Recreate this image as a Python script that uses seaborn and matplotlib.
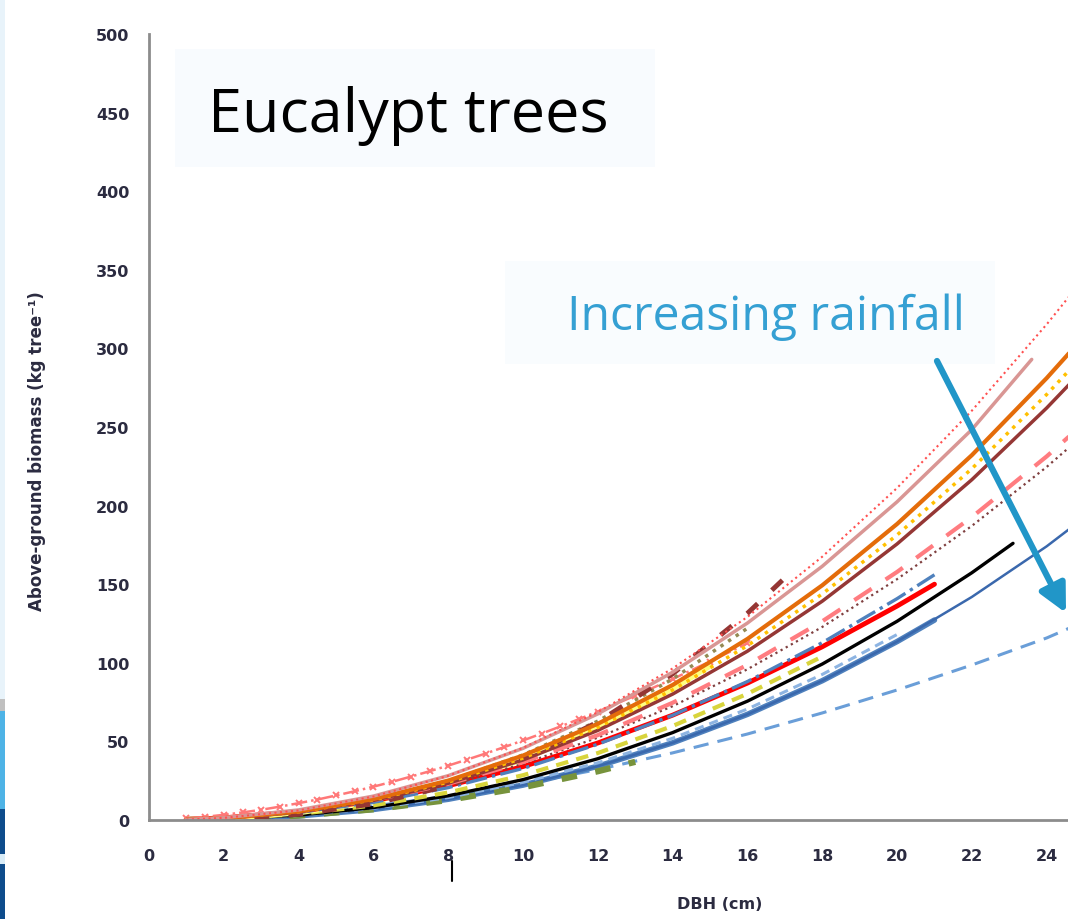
import matplotlib
matplotlib.use("Agg")
import matplotlib.pyplot as plt
import seaborn as sns
from matplotlib.patches import Rectangle
from matplotlib.lines import Line2D

sns.set_theme(style="white")
plt.rcParams['font.family'] = ['DejaVu Sans']

# ---------------- data ----------------
x_full = [1, 2, 4, 6, 8, 10, 12, 14, 16, 18, 20, 22, 24, 24.6]

red_dotted_y = [0.29, 1.33, 6.1, 14.9, 28.1, 45.9, 68.6, 96.4, 129.2, 167.5, 211.2, 260.4, 315.3, 333]
rosy_x = [1, 2, 4, 6, 8, 10, 12, 14, 16, 18, 20, 22, 23.6]
rosy_y = [0.32, 1.43, 6.4, 15.2, 28.2, 45.6, 67.5, 94.0, 125.3, 161.4, 202.4, 248.4, 293]
orange_y = [0.26, 1.19, 5.5, 13.3, 25.1, 41.0, 61.2, 85.9, 115.2, 149.3, 188.3, 232.1, 281.1, 297]
gold_dotted_y = [0.25, 1.14, 5.2, 12.8, 24.1, 39.4, 58.9, 82.7, 110.9, 143.8, 181.3, 223.5, 270.7, 286]
maroon_y = [0.24, 1.11, 5.1, 12.4, 23.4, 38.2, 57.0, 80.1, 107.4, 139.2, 175.6, 216.5, 262.1, 277]
pink_dashed_y = [0.29, 1.25, 5.4, 12.6, 23.0, 36.8, 54.0, 74.6, 98.7, 126.4, 157.8, 192.7, 231.3, 244]
maroon_dotted_y = [0.28, 1.21, 5.2, 12.2, 22.4, 35.7, 52.4, 72.4, 95.9, 122.8, 153.2, 187.1, 224.6, 237]
black_x = [1, 2, 4, 6, 8, 10, 12, 14, 16, 18, 20, 22, 23.1]
black_y = [0.13, 0.63, 3.1, 7.9, 15.4, 25.7, 39.0, 55.6, 75.6, 99.2, 126.4, 157.3, 176]
blue_thin_y = [0.10, 0.51, 2.6, 6.7, 13.2, 22.2, 34.2, 49.1, 67.2, 88.6, 113.5, 141.9, 174.1, 185]
x_to21 = [1, 2, 4, 6, 8, 10, 12, 14, 16, 18, 20, 21]
blue_thick_y = [0.10, 0.51, 2.6, 6.7, 13.2, 22.2, 34.2, 49.1, 67.2, 88.6, 113.5, 127.2]
blue_dashed_y = [0.32, 1.17, 4.2, 8.9, 15.2, 22.9, 32.1, 42.7, 54.7, 68.1, 82.7, 98.6, 115.8, 122]
red_y = [0.34, 1.36, 5.4, 12.2, 21.8, 34.0, 49.0, 66.7, 87.1, 110.2, 136.1, 150]
blue_dashdot_y = [0.26, 1.12, 4.8, 11.2, 20.6, 32.8, 48.2, 66.6, 88.1, 112.8, 140.8, 156]
maroon_dashed_x = [1, 2, 4, 6, 8, 10, 12, 14, 16, 17]
maroon_dashed_y = [0.10, 0.59, 3.6, 10.3, 21.7, 38.8, 62.3, 93.0, 131.5, 154]
yellow_x = [1, 2, 4, 6, 8, 10, 12, 14, 15]
yellow_y = [0.19, 0.95, 4.7, 11.9, 23.1, 38.6, 58.7, 83.6, 98]
yellow_dashed_x = [1, 2, 4, 6, 8, 10, 12, 14, 16, 18]
yellow_dashed_y = [0.18, 0.83, 3.8, 9.3, 17.5, 28.5, 42.6, 59.8, 80.3, 104]
lightblue_x = [1, 2, 4, 6, 8, 10, 12, 14, 16, 18, 20]
lightblue_y = [0.12, 0.59, 2.9, 7.4, 14.3, 24.0, 36.4, 52.0, 70.6, 92.6, 118]
green_x = [1, 2, 4, 6, 8, 10, 12, 13]
green_y = [0.13, 0.60, 2.8, 6.8, 12.7, 20.8, 31.0, 37]
pinkx_x = [1, 1.5, 2, 2.5, 3, 3.5, 4, 4.5, 5, 5.5, 6, 6.5, 7, 7.5, 8, 8.5, 9, 9.5, 10, 10.5, 11, 11.5, 12,
           13, 14, 15, 16]
pinkx_y = [1.0, 2.0, 3.3, 4.8, 6.5, 8.5, 10.7, 13.0, 15.6, 18.3, 21.2, 24.3, 27.6, 31.0, 34.6, 38.4, 42.3,
           46.4, 50.6, 55.0, 59.5, 64.2, 69.0, 79.1, 89.7, 100.8, 112.5]
olive_x = [1, 2, 4, 6, 8, 10, 12, 14, 16]
olive_y = [0.21, 1.0, 5.0, 12.8, 24.8, 41.4, 62.9, 89.7, 122]

x_ticks = list(range(0, 25, 2))
y_ticks = list(range(0, 501, 50))

# ---------------- figure ----------------
W, H = 1068, 920
fig = plt.figure(figsize=(W / 100, H / 100), dpi=100)
fig.patch.set_facecolor("white")

# very faint boxes behind the text annotations
fig.add_artist(Rectangle((175 / W, 1 - 168 / H), 480 / W, 118 / H, transform=fig.transFigure,
                         facecolor="#f8fbfe", edgecolor="none", zorder=0))
fig.add_artist(Rectangle((505 / W, 1 - 365 / H), 490 / W, 103 / H, transform=fig.transFigure,
                         facecolor="#f9fcfe", edgecolor="none", zorder=0))

ax = fig.add_axes([149 / W, 99 / H, (W - 149) / W, (821 - 35) / H])
ax.set_facecolor("none")

series = [
    (x_full, blue_dashed_y, "#6a9ed8", 2.2, (0, (5, 3)), None),
    (x_to21, blue_thick_y, "#4f81bd", 4.0, "-", None),
    (x_full, blue_thin_y, "#3a68ad", 1.8, "-", None),
    (green_x, green_y, "#77933c", 4.5, (0, (2.5, 3)), None),
    (lightblue_x, lightblue_y, "#8db4e2", 2.2, (0, (3, 2)), None),
    (black_x, black_y, "#000000", 2.4, "-", None),
    (yellow_dashed_x, yellow_dashed_y, "#d8d43c", 3.0, (0, (3, 2)), None),
    (yellow_x, yellow_y, "#ffff80", 4.0, "-", None),
    (x_to21, red_y, "#ff0000", 3.5, "-", None),
    (x_to21, blue_dashdot_y, "#4f81bd", 2.4, "-.", None),
    (pinkx_x, pinkx_y, "#ff7878", 1.8, "-.", "x"),
    (olive_x, olive_y, "#948a54", 2.5, ":", None),
    (maroon_dashed_x, maroon_dashed_y, "#943634", 3.5, (0, (3, 4)), None),
    (x_full, maroon_dotted_y, "#7f3f3f", 1.6, ":", None),
    (x_full, pink_dashed_y, "#ff7c80", 3.0, (0, (5, 4)), None),
    (x_full, maroon_y, "#953735", 2.5, "-", None),
    (x_full, gold_dotted_y, "#ffc000", 2.5, ":", None),
    (x_full, orange_y, "#e46c0a", 3.0, "-", None),
    (rosy_x, rosy_y, "#d99694", 2.5, "-", None),
    (x_full, red_dotted_y, "#ff5050", 1.5, ":", None),
]
for xs, ys, c, lw, ls, mk in series:
    kw = dict(color=c, linewidth=lw, linestyle=ls, legend=False, ax=ax)
    if mk:
        kw.update(marker=mk, markersize=4.5, markeredgewidth=1.4, markeredgecolor=c)
    sns.lineplot(x=xs, y=ys, **kw)

ax.set_xlim(0, 24.57)
ax.set_ylim(0, 500)
ax.set_xticks(x_ticks)
ax.set_yticks(y_ticks)
for s in ["top", "right"]:
    ax.spines[s].set_visible(False)
for s in ["left", "bottom"]:
    ax.spines[s].set_color("#8c8c8c")
    ax.spines[s].set_linewidth(2)
ax.tick_params(axis="both", direction="out", length=6, width=1.5, color="#8c8c8c",
               labelsize=11.5, labelcolor="#2b2b40")
ax.tick_params(axis="y", pad=8)
ax.tick_params(axis="x", pad=14)
for lab in ax.get_xticklabels() + ax.get_yticklabels():
    lab.set_fontweight("bold")

ax.set_xlabel("DBH (cm)", fontsize=11.5, fontweight="bold", color="#2b2b40")
ax.xaxis.set_label_coords((720 - 149) / (W - 149), (821 - 897) / 786)
ax.set_ylabel("Above-ground biomass (kg tree\u207b\u00b9)", fontsize=12, fontweight="bold",
              color="#2b2b40")
ax.yaxis.set_label_coords((46 - 149) / (W - 149), (821 - 451) / 786)

# annotations
fig.text(208 / W, 1 - 132 / H, "Eucalypt trees", fontsize=44, family=["Open Sans", "DejaVu Sans"],
         color="black", ha="left", va="baseline")
fig.text(567 / W, 1 - 330 / H, "Increasing rainfall", fontsize=34.7, family=["Open Sans", "DejaVu Sans"],
         color="#35a0d3", ha="left", va="baseline")
ax.annotate("", xy=(1066 / W, 1 - 614 / H), xytext=(937 / W, 1 - 362 / H),
            xycoords="figure fraction", textcoords="figure fraction",
            arrowprops=dict(arrowstyle="-|>,head_length=1.4,head_width=0.7", color="#2196c8",
                            lw=4.5, shrinkA=0, shrinkB=0), annotation_clip=False)

# left edge strip and stray cursor mark
for y0, y1, c in [(0, 700, "#e8f3fa"), (700, 712, "#c0c0c0"), (712, 810, "#4eb3e6"),
                  (810, 855, "#0e4c8c"), (855, 865, "#d8ecf8"), (865, 920, "#0e4c8c")]:
    fig.add_artist(Rectangle((0, 1 - y1 / H), 5 / W, (y1 - y0) / H, transform=fig.transFigure,
                             facecolor=c, edgecolor="none"))
fig.add_artist(Line2D([452 / W, 452 / W], [1 - 862 / H, 1 - 882 / H], transform=fig.transFigure,
                      color="black", lw=1.5))

fig.savefig("out.png", dpi=100)
